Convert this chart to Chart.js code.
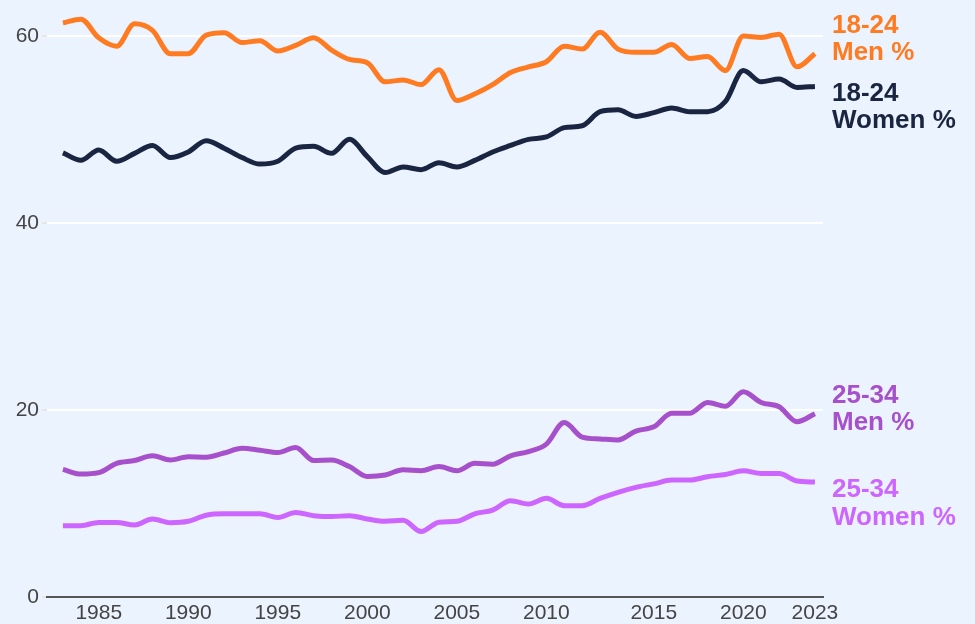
<!DOCTYPE html>
<html>
<head>
<meta charset="utf-8">
<script src="https://cdn.jsdelivr.net/npm/chart.js@4"></script>
<style>
  html, body { margin: 0; padding: 0; background: #EBF3FE; }
  #chart { display: block; }
</style>
</head>
<body>
<canvas id="chart" width="975" height="624"></canvas>
<script>
// survey years (two years have a second estimate)
const years = ['1983','1984','1985','1986','1987','1988','1989','1990','1991','1992',
  '1993','1994','1995','1996','1997','1998','1999','2000','2001','2002',
  '2003','2004','2005','2006','2007','2008','2009','2010','2011','2012',
  '2013','2013','2014','2015','2016','2017','2018','2019','2020','2021',
  '2021','2022','2023'];

const men1824 = [61.4, 61.8, 59.8, 58.9, 61.3, 60.6, 58.1, 58.1, 60.1, 60.35,
  59.3, 59.5, 58.4, 59.0, 59.8, 58.5, 57.5, 57.15, 55.1, 55.3,
  54.8, 56.4, 53.1, 53.8, 54.8, 56.1, 56.7, 57.25, 58.9, 58.6,
  60.4, 58.6, 58.25, 58.25, 59.1, 57.6, 57.8, 56.3, 60.0, 59.85,
  60.2, 56.7, 58.1];
const women1824 = [47.5, 46.7, 47.8, 46.6, 47.45, 48.3, 47.0, 47.6, 48.8, 48.0,
  47.0, 46.3, 46.6, 48.0, 48.2, 47.45, 48.95, 47.1, 45.4, 46.0,
  45.7, 46.45, 46.0, 46.7, 47.6, 48.3, 48.95, 49.2, 50.2, 50.4,
  51.9, 52.1, 51.4, 51.8, 52.3, 51.9, 51.9, 53.0, 56.3, 55.1,
  55.4, 54.5, 54.6];
const men2534 = [13.65, 13.15, 13.3, 14.3, 14.6, 15.1, 14.65, 15.0, 14.95, 15.4,
  15.9, 15.7, 15.45, 16.0, 14.6, 14.65, 13.95, 12.9, 13.05, 13.6,
  13.5, 13.95, 13.5, 14.3, 14.2, 15.1, 15.55, 16.35, 18.65, 17.1,
  16.9, 16.8, 17.75, 18.2, 19.65, 19.65, 20.8, 20.4, 21.95, 20.8,
  20.35, 18.75, 19.6];
const women2534 = [7.63, 7.63, 7.98, 7.98, 7.7, 8.35, 7.95, 8.1, 8.75, 8.9,
  8.9, 8.9, 8.5, 9.05, 8.7, 8.6, 8.7, 8.35, 8.1, 8.2,
  7.0, 8.0, 8.1, 8.9, 9.3, 10.3, 9.95, 10.55, 9.77, 9.77,
  10.55, 11.2, 11.73, 12.1, 12.5, 12.5, 12.87, 13.1, 13.5, 13.2,
  13.2, 12.4, 12.3];

const xTickYears = ['1985','1990','1995','2000','2005','2010','2015','2020','2023'];
const yTicks = [0, 20, 40, 60];

const seriesLabels = [['18-24', 'Men %'], ['18-24', 'Women %'], ['25-34', 'Men %'], ['25-34', 'Women %']];
const seriesColors = ['#FF7B22', '#1A2541', '#A650CC', '#CC66FF'];
const seriesValues = [men1824, women1824, men2534, women2534];
// where each end label sits relative to the line's last point
const labelShift = [-28, 7, -18, 8];

const xTickIdx = xTickYears.map(y => years.indexOf(y));

const endLabels = {
    id: 'endLabels',
    afterDraw(chart) {
        const ctx = chart.ctx;
        const yScale = chart.scales.y;
        const x = chart.chartArea.right + 9;
        ctx.save();
        ctx.font = 'bold 26px "Liberation Sans", Arial, sans-serif';
        ctx.textAlign = 'left';
        ctx.textBaseline = 'middle';
        seriesValues.forEach((vals, i) => {
            const y0 = yScale.getPixelForValue(vals[vals.length - 1]) + labelShift[i];
            ctx.fillStyle = seriesColors[i];
            seriesLabels[i].forEach((line, j) => {
                ctx.fillText(line, x, y0 + j * 27.5);
            });
        });
        ctx.restore();
    }
};

const ctx = document.getElementById('chart');

new Chart(ctx, {
    type: 'line',
    data: {
        datasets: seriesValues.map((vals, i) => ({
            label: seriesLabels[i].join(' '),
            data: vals.map((v, k) => ({ x: k, y: v })),
            borderColor: seriesColors[i],
            borderWidth: 5,
            pointRadius: 0,
            cubicInterpolationMode: 'monotone',
            fill: false
        }))
    },
    options: {
        responsive: false,
        animation: false,
        devicePixelRatio: 1,
        layout: { padding: { left: 0, right: 152, top: 0, bottom: 0 } },
        plugins: {
            legend: { display: false },
            tooltip: { enabled: false }
        },
        scales: {
            x: {
                type: 'linear',
                min: -0.89,
                max: 42.45,
                afterBuildTicks: scale => { scale.ticks = xTickIdx.map(v => ({ value: v })); },
                afterFit: scale => { scale.height = 27; },
                grid: { display: false, drawTicks: false },
                border: { display: true, color: '#555555', width: 2 },
                ticks: {
                    autoSkip: false,
                    maxRotation: 0,
                    padding: 4,
                    color: '#444444',
                    font: { family: '"Liberation Sans", Arial, sans-serif', size: 21 },
                    callback: v => years[v]
                }
            },
            y: {
                min: 0,
                max: 63.85,
                afterBuildTicks: scale => { scale.ticks = yTicks.map(v => ({ value: v })); },
                afterFit: scale => {
                    scale.width = 47;
                    scale.paddingTop = 0;
                    scale.paddingBottom = 0;
                },
                grid: {
                    color: c => c.tick && c.tick.value === 0 ? 'rgba(0,0,0,0)' : '#FFFFFF',
                    lineWidth: 2,
                    tickColor: '#E4E6EA',
                    tickLength: 5
                },
                border: { display: false },
                ticks: {
                    padding: 3,
                    color: '#444444',
                    font: { family: '"Liberation Sans", Arial, sans-serif', size: 21 }
                }
            }
        }
    },
    plugins: [endLabels]
});
</script>
</body>
</html>
